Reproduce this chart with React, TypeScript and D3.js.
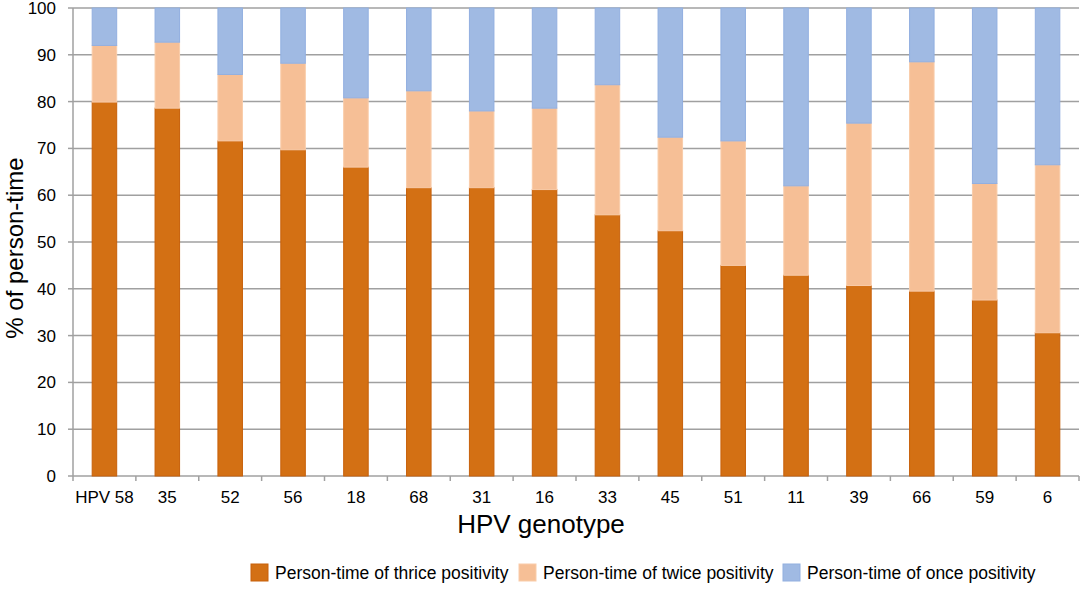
import React, { useEffect, useRef } from 'react';
import * as d3 from 'd3';

// HPV genotypes, in the order shown
const genotypes = ['HPV 58', '35', '52', '56', '18', '68', '31', '16', '33', '45', '51', '11', '39', '66', '59', '6'];

// % of person-time per positivity class
const thrice = [79.9, 78.6, 71.6, 69.7, 66.0, 61.6, 61.6, 61.2, 55.8, 52.4, 45.0, 42.9, 40.7, 39.5, 37.6, 30.6];
const twice = [12.1, 14.1, 14.2, 18.5, 14.8, 20.7, 16.4, 17.4, 27.8, 20.0, 26.6, 19.1, 34.7, 49.0, 24.9, 35.9];
const once = [8.0, 7.3, 14.2, 11.8, 19.2, 17.7, 22.0, 21.4, 16.4, 27.6, 28.4, 38.0, 24.6, 11.5, 37.5, 33.5];

const yTicks = [0, 10, 20, 30, 40, 50, 60, 70, 80, 90, 100];

const seriesKeys = ['thrice', 'twice', 'once'];
const seriesLabels = [
  'Person-time of thrice positivity',
  'Person-time of twice positivity',
  'Person-time of once positivity',
];
const fills = ['#d37014', '#f6bf96', '#a0bae3'];
const strokes = ['#c8600a', '#f9cca9', '#92afe0'];

const App: React.FC = () => {
  const svgRef = useRef<SVGSVGElement>(null);

  useEffect(() => {
    document.body.style.margin = '0';
    if (!svgRef.current) return;

    const width = 1084;
    const height = 589;
    const m = { top: 8, right: 5, bottom: 113, left: 73 };

    const svg = d3.select(svgRef.current);
    svg.selectAll('*').remove();
    svg.attr('width', width).attr('height', height);

    const rows = genotypes.map((g, i) => ({ g, thrice: thrice[i], twice: twice[i], once: once[i] }));
    const stacked = d3.stack<any>().keys(seriesKeys)(rows);

    const x = d3.scaleBand()
      .domain(genotypes)
      .range([m.left, width - m.right])
      .paddingInner(0.61)
      .paddingOuter(0.305);

    const y = d3.scaleLinear()
      .domain([0, 100])
      .range([height - m.bottom, m.top]);

    const font = 'Arial, "Liberation Sans", sans-serif';

    // Gridlines
    svg.append('g')
      .selectAll('line')
      .data(yTicks)
      .join('line')
      .attr('x1', m.left)
      .attr('x2', width - m.right)
      .attr('y1', d => y(d))
      .attr('y2', d => y(d))
      .attr('stroke', '#a0a0a0')
      .attr('stroke-width', 1.5);

    // Bars
    svg.append('g')
      .selectAll('g')
      .data(stacked)
      .join('g')
      .attr('fill', (_, i) => fills[i])
      .attr('stroke', (_, i) => strokes[i])
      .selectAll('rect')
      .data(d => d)
      .join('rect')
      .attr('x', d => x(d.data.g)!)
      .attr('width', x.bandwidth())
      .attr('y', d => y(d[1]))
      .attr('height', d => y(d[0]) - y(d[1]))
      .attr('stroke-width', 1);

    // Y axis line, ticks and labels
    svg.append('line')
      .attr('x1', m.left).attr('x2', m.left)
      .attr('y1', y(100)).attr('y2', y(0))
      .attr('stroke', '#a0a0a0').attr('stroke-width', 1.5);

    svg.append('g')
      .selectAll('line')
      .data(yTicks)
      .join('line')
      .attr('x1', m.left - 5)
      .attr('x2', m.left)
      .attr('y1', d => y(d))
      .attr('y2', d => y(d))
      .attr('stroke', '#a0a0a0')
      .attr('stroke-width', 1.5);

    svg.append('g')
      .selectAll('text')
      .data(yTicks)
      .join('text')
      .attr('x', m.left - 17)
      .attr('y', d => y(d))
      .attr('dy', '0.35em')
      .attr('text-anchor', 'end')
      .attr('font-family', font)
      .attr('font-size', 17)
      .attr('fill', '#000')
      .text(d => d);

    // X axis ticks at band boundaries
    const step = x.step();
    const boundaries = d3.range(genotypes.length + 1).map(i => m.left + i * step);
    svg.append('g')
      .selectAll('line')
      .data(boundaries)
      .join('line')
      .attr('x1', d => d).attr('x2', d => d)
      .attr('y1', y(0)).attr('y2', y(0) + 5)
      .attr('stroke', '#a0a0a0')
      .attr('stroke-width', 1.5);

    svg.append('g')
      .selectAll('text')
      .data(genotypes)
      .join('text')
      .attr('x', d => x(d)! + x.bandwidth() / 2)
      .attr('y', y(0) + 27)
      .attr('text-anchor', 'middle')
      .attr('font-family', font)
      .attr('font-size', 17)
      .attr('fill', '#000')
      .text(d => d);

    // Axis titles
    svg.append('text')
      .attr('transform', `translate(23,248) rotate(-90)`)
      .attr('text-anchor', 'middle')
      .attr('font-family', font)
      .attr('font-size', 24)
      .attr('fill', '#000')
      .text('% of person-time');

    svg.append('text')
      .attr('x', 541)
      .attr('y', 533)
      .attr('text-anchor', 'middle')
      .attr('font-family', font)
      .attr('font-size', 26)
      .attr('fill', '#000')
      .text('HPV genotype');

    // Legend
    const legendX = [251, 519, 783];
    const legend = svg.append('g')
      .selectAll('g')
      .data(seriesLabels)
      .join('g')
      .attr('transform', (_, i) => `translate(${legendX[i]},564)`);

    legend.append('rect')
      .attr('width', 17)
      .attr('height', 17)
      .attr('fill', (_, i) => fills[i])
      .attr('stroke', (_, i) => strokes[i]);

    legend.append('text')
      .attr('x', 24)
      .attr('y', 9)
      .attr('dy', '0.35em')
      .attr('font-family', font)
      .attr('font-size', 17.5)
      .attr('fill', '#000')
      .text(d => d);
  }, []);

  return <svg ref={svgRef} style={{ display: 'block' }}></svg>;
};

export default App;
